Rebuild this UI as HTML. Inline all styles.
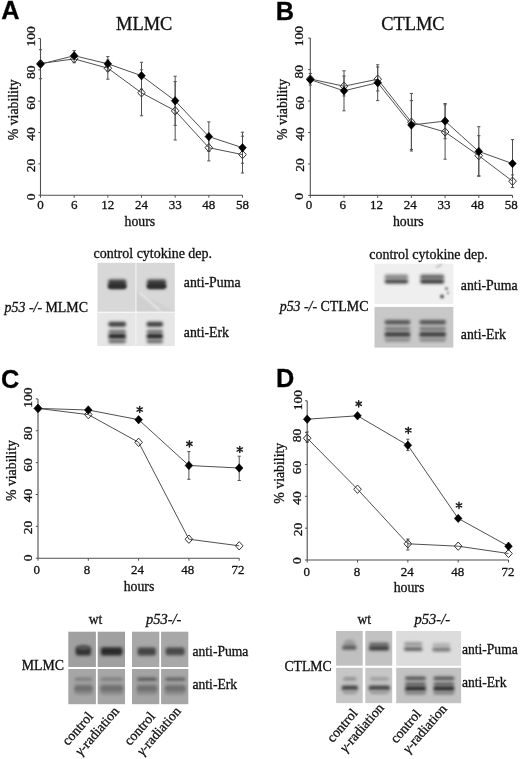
<!DOCTYPE html>
<html><head><meta charset="utf-8"><title>Figure</title>
<style>html,body{margin:0;padding:0;background:#fff;}svg{display:block;filter:grayscale(1) blur(0.3px);}text{stroke:#111;stroke-width:0.3px;}</style>
</head><body>
<svg width="520" height="759" viewBox="0 0 520 759">
<defs>
<filter id="b8" x="-50%" y="-100%" width="200%" height="300%"><feGaussianBlur stdDeviation="0.8"/></filter>
<filter id="b10" x="-50%" y="-100%" width="200%" height="300%"><feGaussianBlur stdDeviation="1.0"/></filter>
<filter id="b12" x="-50%" y="-100%" width="200%" height="300%"><feGaussianBlur stdDeviation="1.2"/></filter>
<filter id="b15" x="-50%" y="-100%" width="200%" height="300%"><feGaussianBlur stdDeviation="1.5"/></filter>
</defs>
<rect width="520" height="759" fill="#fff"/>
<rect x="97.5" y="262.8" width="77.3" height="49.2" fill="#d8d8d8"/>
<path d="M140,293 L174.8,311.5 L174.8,312 L136,312 L136,290 Z" fill="#d0d0d0" filter="url(#b15)"/>
<rect x="97.3" y="313.0" width="77.5" height="33.1" fill="#e6e6e6"/>
<rect x="135.3" y="262.8" width="1.2" height="84" fill="#f2f2f2"/>
<rect x="97.5" y="311.6" width="77.3" height="1.1" fill="#f4f4f4"/>
<rect x="108.2" y="279.4" width="18.0" height="9.4" rx="2" fill="#3c3c3c" opacity="1" filter="url(#b15)"/>
<rect x="108.2" y="284.4" width="18.0" height="4.0" rx="2" fill="#2e2e2e" opacity="1" filter="url(#b12)"/>
<rect x="147.0" y="279.4" width="19.0" height="9.4" rx="2" fill="#3c3c3c" opacity="1" filter="url(#b15)"/>
<rect x="147.0" y="284.4" width="19.0" height="4.0" rx="2" fill="#2e2e2e" opacity="1" filter="url(#b12)"/>
<rect x="108.4" y="321.8" width="17.6" height="5.0" rx="2" fill="#404040" opacity="1" filter="url(#b15)"/>
<rect x="108.4" y="329.8" width="17.6" height="3.4" rx="2" fill="#707070" opacity="1" filter="url(#b15)"/>
<rect x="108.4" y="333.4" width="17.6" height="5.6" rx="2" fill="#2c2c2c" opacity="1" filter="url(#b15)"/>
<rect x="108.4" y="339.6" width="17.6" height="3.6" rx="2" fill="#686868" opacity="1" filter="url(#b15)"/>
<rect x="146.6" y="321.8" width="16.4" height="5.0" rx="2" fill="#404040" opacity="1" filter="url(#b15)"/>
<rect x="146.6" y="329.8" width="16.4" height="3.4" rx="2" fill="#707070" opacity="1" filter="url(#b15)"/>
<rect x="146.6" y="333.4" width="16.4" height="5.6" rx="2" fill="#2c2c2c" opacity="1" filter="url(#b15)"/>
<rect x="146.6" y="339.6" width="16.4" height="3.6" rx="2" fill="#686868" opacity="1" filter="url(#b15)"/>
<path d="M139.5,292.5 L160,310.5" stroke="#f4f4f4" stroke-width="1.3" filter="url(#b8)"/>
<rect x="374.5" y="263.7" width="78.8" height="40.4" fill="#efefef"/>
<rect x="374.5" y="306.9" width="78.8" height="40.7" fill="#c8c8c8"/>
<rect x="384.6" y="274.6" width="23.6" height="4.6" rx="2" fill="#8c8c8c" opacity="1" filter="url(#b15)"/>
<rect x="384.6" y="279.4" width="23.6" height="4.0" rx="2" fill="#3e3e3e" opacity="1" filter="url(#b15)"/>
<rect x="420.2" y="274.6" width="24.0" height="4.6" rx="2" fill="#6a6a6a" opacity="1" filter="url(#b15)"/>
<rect x="420.2" y="279.4" width="24.0" height="4.0" rx="2" fill="#2e2e2e" opacity="1" filter="url(#b15)"/>
<rect x="384.6" y="320.0" width="25.8" height="4.6" rx="2" fill="#555555" opacity="1" filter="url(#b15)"/>
<rect x="384.6" y="326.8" width="25.8" height="4.0" rx="2" fill="#7a7a7a" opacity="1" filter="url(#b15)"/>
<rect x="384.6" y="331.8" width="25.8" height="5.4" rx="2" fill="#444444" opacity="1" filter="url(#b15)"/>
<rect x="384.6" y="337.8" width="25.8" height="4.0" rx="2" fill="#8c8c8c" opacity="1" filter="url(#b15)"/>
<rect x="419.4" y="320.0" width="26.6" height="4.6" rx="2" fill="#555555" opacity="1" filter="url(#b15)"/>
<rect x="419.4" y="326.8" width="26.6" height="4.0" rx="2" fill="#7a7a7a" opacity="1" filter="url(#b15)"/>
<rect x="419.4" y="331.8" width="26.6" height="5.4" rx="2" fill="#444444" opacity="1" filter="url(#b15)"/>
<rect x="419.4" y="337.8" width="26.6" height="4.0" rx="2" fill="#8c8c8c" opacity="1" filter="url(#b15)"/>
<circle cx="442" cy="296.5" r="2" fill="#555" filter="url(#b10)"/><circle cx="446.5" cy="288.5" r="1.6" fill="#777" filter="url(#b10)"/><circle cx="448" cy="293" r="1.2" fill="#888" filter="url(#b8)"/><path d="M436,267.5 L442,264.5" stroke="#999" stroke-width="1.2" filter="url(#b8)"/>
<rect x="68.3" y="631.7" width="27.6" height="35.3" fill="#a0a0a0"/>
<rect x="68.3" y="669.0" width="27.6" height="35.2" fill="#a6a6a6"/>
<rect x="97.7" y="631.7" width="27.3" height="35.3" fill="#a0a0a0"/>
<rect x="97.7" y="669.0" width="27.3" height="35.2" fill="#a6a6a6"/>
<rect x="132.0" y="631.7" width="27.3" height="35.3" fill="#a8a8a8"/>
<rect x="132.0" y="669.0" width="27.3" height="35.2" fill="#a4a4a4"/>
<rect x="161.1" y="631.7" width="27.2" height="35.3" fill="#a8a8a8"/>
<rect x="161.1" y="669.0" width="27.2" height="35.2" fill="#a6a6a6"/>
<rect x="75.6" y="646.8" width="15.4" height="8.6" rx="2" fill="#333333" opacity="1" filter="url(#b15)"/>
<ellipse cx="83.5" cy="647.5" rx="6" ry="2.6" fill="#555" filter="url(#b15)"/>
<rect x="100.8" y="647.2" width="21.6" height="8.4" rx="2" fill="#2a2a2a" opacity="1" filter="url(#b15)"/>
<rect x="137.6" y="647.4" width="18.2" height="8.0" rx="2" fill="#444444" opacity="1" filter="url(#b15)"/>
<rect x="165.6" y="647.6" width="19.0" height="7.6" rx="2" fill="#484848" opacity="1" filter="url(#b15)"/>
<rect x="74.5" y="677.6" width="18.0" height="3.4" rx="2" fill="#7e7e7e" opacity="1" filter="url(#b15)"/>
<rect x="74.5" y="684.0" width="18.0" height="10.6" rx="2" fill="#868686" opacity="1" filter="url(#b15)"/>
<rect x="74.5" y="686.4" width="18.0" height="4.0" rx="2" fill="#6c6c6c" opacity="1" filter="url(#b15)"/>
<rect x="100.5" y="677.6" width="22.5" height="3.4" rx="2" fill="#7e7e7e" opacity="1" filter="url(#b15)"/>
<rect x="100.5" y="684.0" width="22.5" height="10.6" rx="2" fill="#868686" opacity="1" filter="url(#b15)"/>
<rect x="100.5" y="686.4" width="22.5" height="4.0" rx="2" fill="#6c6c6c" opacity="1" filter="url(#b15)"/>
<rect x="137.0" y="677.6" width="20.0" height="3.4" rx="2" fill="#5a5a5a" opacity="1" filter="url(#b15)"/>
<rect x="137.0" y="684.0" width="20.0" height="10.6" rx="2" fill="#868686" opacity="1" filter="url(#b15)"/>
<rect x="137.0" y="686.4" width="20.0" height="4.0" rx="2" fill="#6c6c6c" opacity="1" filter="url(#b15)"/>
<rect x="165.0" y="677.6" width="20.5" height="3.4" rx="2" fill="#626262" opacity="1" filter="url(#b15)"/>
<rect x="165.0" y="684.0" width="20.5" height="10.6" rx="2" fill="#868686" opacity="1" filter="url(#b15)"/>
<rect x="165.0" y="686.4" width="20.5" height="4.0" rx="2" fill="#6c6c6c" opacity="1" filter="url(#b15)"/>
<rect x="336.1" y="631.0" width="26.6" height="34.7" fill="#c0c0c0"/>
<rect x="365.3" y="631.0" width="26.9" height="34.7" fill="#c2c2c2"/>
<rect x="396.2" y="631.0" width="64.9" height="34.8" fill="#dcdcdc"/>
<rect x="336.1" y="667.8" width="26.6" height="35.3" fill="#c6c6c6"/>
<rect x="365.3" y="667.8" width="26.9" height="35.3" fill="#c6c6c6"/>
<rect x="396.2" y="667.8" width="64.9" height="35.4" fill="#c2c2c2"/>
<ellipse cx="349.5" cy="643.5" rx="6" ry="4" fill="#9a9a9a" filter="url(#b15)"/>
<rect x="342.0" y="645.4" width="14.6" height="4.4" rx="2" fill="#5a5a5a" opacity="1" filter="url(#b15)"/>
<rect x="369.0" y="642.6" width="20.0" height="3.8" rx="2" fill="#6a6a6a" opacity="1" filter="url(#b15)"/>
<rect x="368.8" y="646.0" width="20.4" height="4.6" rx="2" fill="#3a3a3a" opacity="1" filter="url(#b15)"/>
<rect x="404.0" y="642.0" width="18.4" height="4.0" rx="2" fill="#9a9a9a" opacity="1" filter="url(#b15)"/>
<rect x="403.8" y="647.0" width="18.8" height="4.0" rx="2" fill="#666666" opacity="1" filter="url(#b15)"/>
<rect x="432.4" y="643.0" width="18.0" height="3.8" rx="2" fill="#b0b0b0" opacity="1" filter="url(#b15)"/>
<rect x="432.2" y="647.6" width="18.4" height="4.0" rx="2" fill="#777777" opacity="1" filter="url(#b15)"/>
<rect x="343.0" y="677.2" width="13.5" height="3.2" rx="2" fill="#8a8a8a" opacity="1" filter="url(#b15)"/>
<rect x="341.6" y="685.4" width="16.4" height="5.0" rx="2" fill="#444444" opacity="1" filter="url(#b15)"/>
<rect x="343.0" y="690.6" width="14.0" height="3.4" rx="2" fill="#9a9a9a" opacity="1" filter="url(#b15)"/>
<rect x="370.0" y="677.2" width="19.0" height="3.2" rx="2" fill="#9a9a9a" opacity="1" filter="url(#b15)"/>
<rect x="368.6" y="685.4" width="21.4" height="5.0" rx="2" fill="#444444" opacity="1" filter="url(#b15)"/>
<rect x="370.0" y="690.6" width="19.0" height="3.4" rx="2" fill="#9a9a9a" opacity="1" filter="url(#b15)"/>
<rect x="405.0" y="676.4" width="21.0" height="3.8" rx="2" fill="#555555" opacity="1" filter="url(#b15)"/>
<rect x="405.0" y="682.0" width="21.0" height="4.0" rx="2" fill="#6a6a6a" opacity="1" filter="url(#b15)"/>
<rect x="405.0" y="686.0" width="21.0" height="5.2" rx="2" fill="#333333" opacity="1" filter="url(#b15)"/>
<rect x="405.0" y="691.4" width="21.0" height="3.2" rx="2" fill="#7a7a7a" opacity="1" filter="url(#b15)"/>
<rect x="433.4" y="676.4" width="21.0" height="3.8" rx="2" fill="#555555" opacity="1" filter="url(#b15)"/>
<rect x="433.4" y="682.0" width="21.0" height="4.0" rx="2" fill="#6a6a6a" opacity="1" filter="url(#b15)"/>
<rect x="433.4" y="686.0" width="21.0" height="5.2" rx="2" fill="#333333" opacity="1" filter="url(#b15)"/>
<rect x="433.4" y="691.4" width="21.0" height="3.2" rx="2" fill="#7a7a7a" opacity="1" filter="url(#b15)"/>
<path d="M40.5,38.5V195.2H242.5" fill="none" stroke="#505050" stroke-width="1.1"/>
<path d="M38.3,38.50H40.5" stroke="#505050" stroke-width="1"/>
<text x="35.30" y="36.30" transform="rotate(-90 35.30 36.30)" text-anchor="middle" font-size="13.5" font-family='"Liberation Serif", serif' fill="#111">100</text>
<path d="M38.3,69.84H40.5" stroke="#505050" stroke-width="1"/>
<text x="35.30" y="72.30" transform="rotate(-90 35.30 72.30)" text-anchor="middle" font-size="13.5" font-family='"Liberation Serif", serif' fill="#111">80</text>
<path d="M38.3,101.18H40.5" stroke="#505050" stroke-width="1"/>
<text x="35.30" y="103.10" transform="rotate(-90 35.30 103.10)" text-anchor="middle" font-size="13.5" font-family='"Liberation Serif", serif' fill="#111">60</text>
<path d="M38.3,132.52H40.5" stroke="#505050" stroke-width="1"/>
<text x="35.30" y="133.90" transform="rotate(-90 35.30 133.90)" text-anchor="middle" font-size="13.5" font-family='"Liberation Serif", serif' fill="#111">40</text>
<path d="M38.3,163.86H40.5" stroke="#505050" stroke-width="1"/>
<text x="35.30" y="165.50" transform="rotate(-90 35.30 165.50)" text-anchor="middle" font-size="13.5" font-family='"Liberation Serif", serif' fill="#111">20</text>
<path d="M38.3,195.20H40.5" stroke="#505050" stroke-width="1"/>
<text x="35.30" y="196.90" transform="rotate(-90 35.30 196.90)" text-anchor="middle" font-size="13.5" font-family='"Liberation Serif", serif' fill="#111">0</text>
<path d="M40.50,195.2V197.7" stroke="#505050" stroke-width="1"/>
<text x="40.50" y="209.20" text-anchor="middle" font-size="13" font-family='"Liberation Serif", serif' fill="#111">0</text>
<path d="M74.17,195.2V197.7" stroke="#505050" stroke-width="1"/>
<text x="74.17" y="209.20" text-anchor="middle" font-size="13" font-family='"Liberation Serif", serif' fill="#111">6</text>
<path d="M107.83,195.2V197.7" stroke="#505050" stroke-width="1"/>
<text x="107.83" y="209.20" text-anchor="middle" font-size="13" font-family='"Liberation Serif", serif' fill="#111">12</text>
<path d="M141.50,195.2V197.7" stroke="#505050" stroke-width="1"/>
<text x="141.50" y="209.20" text-anchor="middle" font-size="13" font-family='"Liberation Serif", serif' fill="#111">24</text>
<path d="M175.17,195.2V197.7" stroke="#505050" stroke-width="1"/>
<text x="175.17" y="209.20" text-anchor="middle" font-size="13" font-family='"Liberation Serif", serif' fill="#111">33</text>
<path d="M208.83,195.2V197.7" stroke="#505050" stroke-width="1"/>
<text x="208.83" y="209.20" text-anchor="middle" font-size="13" font-family='"Liberation Serif", serif' fill="#111">48</text>
<path d="M242.50,195.2V197.7" stroke="#505050" stroke-width="1"/>
<text x="242.50" y="209.20" text-anchor="middle" font-size="13" font-family='"Liberation Serif", serif' fill="#111">58</text>
<path d="M40.50,49.70V78.70M38.90,49.70H42.10M38.90,78.70H42.10" stroke="#505050" stroke-width="1"/>
<path d="M74.17,50.60V62.70M72.57,50.60H75.77M72.57,62.70H75.77" stroke="#505050" stroke-width="1"/>
<path d="M107.83,56.60V71.00M106.23,56.60H109.43M106.23,71.00H109.43" stroke="#505050" stroke-width="1"/>
<path d="M141.50,62.30V89.10M139.90,62.30H143.10M139.90,89.10H143.10" stroke="#505050" stroke-width="1"/>
<path d="M175.17,76.20V125.40M173.57,76.20H176.77M173.57,125.40H176.77" stroke="#505050" stroke-width="1"/>
<path d="M208.83,121.90V151.30M207.23,121.90H210.43M207.23,151.30H210.43" stroke="#505050" stroke-width="1"/>
<path d="M242.50,132.20V163.20M240.90,132.20H244.10M240.90,163.20H244.10" stroke="#505050" stroke-width="1"/>
<path d="M107.83,60.00V79.20M106.23,60.00H109.43M106.23,79.20H109.43" stroke="#505050" stroke-width="1"/>
<path d="M141.50,69.80V115.80M139.90,69.80H143.10M139.90,115.80H143.10" stroke="#505050" stroke-width="1"/>
<path d="M175.17,81.60V140.00M173.57,81.60H176.77M173.57,140.00H176.77" stroke="#505050" stroke-width="1"/>
<path d="M208.83,134.50V160.90M207.23,134.50H210.43M207.23,160.90H210.43" stroke="#505050" stroke-width="1"/>
<path d="M242.50,136.20V173.00M240.90,136.20H244.10M240.90,173.00H244.10" stroke="#505050" stroke-width="1"/>
<path d="M40.50,63.50L74.17,58.90L107.83,68.20L141.50,92.80L175.17,110.80L208.83,147.70L242.50,154.60" fill="none" stroke="#505050" stroke-width="1.0"/>
<path d="M40.50,64.20L74.17,55.70L107.83,63.80L141.50,75.70L175.17,100.80L208.83,136.60L242.50,147.70" fill="none" stroke="#505050" stroke-width="1.0"/>
<path d="M40.50,59.30L44.30,63.50L40.50,67.70L36.70,63.50Z" fill="none" stroke="#333" stroke-width="1"/>
<path d="M74.17,54.70L77.97,58.90L74.17,63.10L70.37,58.90Z" fill="none" stroke="#333" stroke-width="1"/>
<path d="M107.83,64.00L111.63,68.20L107.83,72.40L104.03,68.20Z" fill="none" stroke="#333" stroke-width="1"/>
<path d="M141.50,88.60L145.30,92.80L141.50,97.00L137.70,92.80Z" fill="none" stroke="#333" stroke-width="1"/>
<path d="M175.17,106.60L178.97,110.80L175.17,115.00L171.37,110.80Z" fill="none" stroke="#333" stroke-width="1"/>
<path d="M208.83,143.50L212.63,147.70L208.83,151.90L205.03,147.70Z" fill="none" stroke="#333" stroke-width="1"/>
<path d="M242.50,150.40L246.30,154.60L242.50,158.80L238.70,154.60Z" fill="none" stroke="#333" stroke-width="1"/>
<path d="M40.50,60.00L44.30,64.20L40.50,68.40L36.70,64.20Z" fill="#000" stroke="#000" stroke-width="0.6"/>
<path d="M74.17,51.50L77.97,55.70L74.17,59.90L70.37,55.70Z" fill="#000" stroke="#000" stroke-width="0.6"/>
<path d="M107.83,59.60L111.63,63.80L107.83,68.00L104.03,63.80Z" fill="#000" stroke="#000" stroke-width="0.6"/>
<path d="M141.50,71.50L145.30,75.70L141.50,79.90L137.70,75.70Z" fill="#000" stroke="#000" stroke-width="0.6"/>
<path d="M175.17,96.60L178.97,100.80L175.17,105.00L171.37,100.80Z" fill="#000" stroke="#000" stroke-width="0.6"/>
<path d="M208.83,132.40L212.63,136.60L208.83,140.80L205.03,136.60Z" fill="#000" stroke="#000" stroke-width="0.6"/>
<path d="M242.50,143.50L246.30,147.70L242.50,151.90L238.70,147.70Z" fill="#000" stroke="#000" stroke-width="0.6"/>
<text x="17.80" y="109.80" transform="rotate(-90 17.80 109.80)" text-anchor="middle" font-size="13.8" font-family='"Liberation Serif", serif' fill="#111">% viability</text>
<text x="139.90" y="226.20" text-anchor="middle" font-size="13.8" font-family='"Liberation Serif", serif' fill="#111">hours</text>
<text x="144.20" y="29.50" text-anchor="middle" font-size="18.4" font-family='"Liberation Serif", serif' fill="#111">MLMC</text>
<text x="1.20" y="19.20" font-size="25.3" font-weight="bold" font-family='"Liberation Sans", sans-serif' fill="#000">A</text>
<path d="M310.3,38.1V195.4H512.5" fill="none" stroke="#505050" stroke-width="1.1"/>
<path d="M308.1,38.10H310.3" stroke="#505050" stroke-width="1"/>
<text x="303.50" y="36.10" transform="rotate(-90 303.50 36.10)" text-anchor="middle" font-size="13.5" font-family='"Liberation Serif", serif' fill="#111">100</text>
<path d="M308.1,69.56H310.3" stroke="#505050" stroke-width="1"/>
<text x="303.50" y="71.80" transform="rotate(-90 303.50 71.80)" text-anchor="middle" font-size="13.5" font-family='"Liberation Serif", serif' fill="#111">80</text>
<path d="M308.1,101.02H310.3" stroke="#505050" stroke-width="1"/>
<text x="303.50" y="103.00" transform="rotate(-90 303.50 103.00)" text-anchor="middle" font-size="13.5" font-family='"Liberation Serif", serif' fill="#111">60</text>
<path d="M308.1,132.48H310.3" stroke="#505050" stroke-width="1"/>
<text x="303.50" y="134.00" transform="rotate(-90 303.50 134.00)" text-anchor="middle" font-size="13.5" font-family='"Liberation Serif", serif' fill="#111">40</text>
<path d="M308.1,163.94H310.3" stroke="#505050" stroke-width="1"/>
<text x="303.50" y="165.00" transform="rotate(-90 303.50 165.00)" text-anchor="middle" font-size="13.5" font-family='"Liberation Serif", serif' fill="#111">20</text>
<path d="M308.1,195.40H310.3" stroke="#505050" stroke-width="1"/>
<text x="303.50" y="196.30" transform="rotate(-90 303.50 196.30)" text-anchor="middle" font-size="13.5" font-family='"Liberation Serif", serif' fill="#111">0</text>
<path d="M310.30,195.4V197.9" stroke="#505050" stroke-width="1"/>
<text x="309.10" y="209.40" text-anchor="middle" font-size="13" font-family='"Liberation Serif", serif' fill="#111">0</text>
<path d="M344.00,195.4V197.9" stroke="#505050" stroke-width="1"/>
<text x="342.80" y="209.40" text-anchor="middle" font-size="13" font-family='"Liberation Serif", serif' fill="#111">6</text>
<path d="M377.70,195.4V197.9" stroke="#505050" stroke-width="1"/>
<text x="376.50" y="209.40" text-anchor="middle" font-size="13" font-family='"Liberation Serif", serif' fill="#111">12</text>
<path d="M411.40,195.4V197.9" stroke="#505050" stroke-width="1"/>
<text x="410.20" y="209.40" text-anchor="middle" font-size="13" font-family='"Liberation Serif", serif' fill="#111">24</text>
<path d="M445.10,195.4V197.9" stroke="#505050" stroke-width="1"/>
<text x="443.90" y="209.40" text-anchor="middle" font-size="13" font-family='"Liberation Serif", serif' fill="#111">33</text>
<path d="M478.80,195.4V197.9" stroke="#505050" stroke-width="1"/>
<text x="477.60" y="209.40" text-anchor="middle" font-size="13" font-family='"Liberation Serif", serif' fill="#111">48</text>
<path d="M512.50,195.4V197.9" stroke="#505050" stroke-width="1"/>
<text x="511.30" y="209.40" text-anchor="middle" font-size="13" font-family='"Liberation Serif", serif' fill="#111">58</text>
<path d="M310.30,73.50V85.00M308.70,73.50H311.90M308.70,85.00H311.90" stroke="#505050" stroke-width="1"/>
<path d="M344.00,70.80V110.80M342.40,70.80H345.60M342.40,110.80H345.60" stroke="#505050" stroke-width="1"/>
<path d="M377.70,64.80V100.60M376.10,64.80H379.30M376.10,100.60H379.30" stroke="#505050" stroke-width="1"/>
<path d="M411.40,100.60V149.40M409.80,100.60H413.00M409.80,149.40H413.00" stroke="#505050" stroke-width="1"/>
<path d="M445.10,103.50V138.70M443.50,103.50H446.70M443.50,138.70H446.70" stroke="#505050" stroke-width="1"/>
<path d="M478.80,126.70V176.30M477.20,126.70H480.40M477.20,176.30H480.40" stroke="#505050" stroke-width="1"/>
<path d="M512.50,139.60V187.60M510.90,139.60H514.10M510.90,187.60H514.10" stroke="#505050" stroke-width="1"/>
<path d="M344.00,76.00V96.00M342.40,76.00H345.60M342.40,96.00H345.60" stroke="#505050" stroke-width="1"/>
<path d="M377.70,67.00V91.00M376.10,67.00H379.30M376.10,91.00H379.30" stroke="#505050" stroke-width="1"/>
<path d="M411.40,93.40V151.00M409.80,93.40H413.00M409.80,151.00H413.00" stroke="#505050" stroke-width="1"/>
<path d="M445.10,104.80V159.20M443.50,104.80H446.70M443.50,159.20H446.70" stroke="#505050" stroke-width="1"/>
<path d="M478.80,135.70V175.70M477.20,135.70H480.40M477.20,175.70H480.40" stroke="#505050" stroke-width="1"/>
<path d="M512.50,174.90V187.50M510.90,174.90H514.10M510.90,187.50H514.10" stroke="#505050" stroke-width="1"/>
<path d="M310.30,79.00L344.00,86.20L377.70,79.20L411.40,122.20L445.10,132.00L478.80,155.70L512.50,181.20" fill="none" stroke="#505050" stroke-width="1.0"/>
<path d="M310.30,79.70L344.00,90.80L377.70,82.70L411.40,125.00L445.10,121.10L478.80,151.50L512.50,163.60" fill="none" stroke="#505050" stroke-width="1.0"/>
<path d="M310.30,74.80L314.10,79.00L310.30,83.20L306.50,79.00Z" fill="none" stroke="#333" stroke-width="1"/>
<path d="M344.00,82.00L347.80,86.20L344.00,90.40L340.20,86.20Z" fill="none" stroke="#333" stroke-width="1"/>
<path d="M377.70,75.00L381.50,79.20L377.70,83.40L373.90,79.20Z" fill="none" stroke="#333" stroke-width="1"/>
<path d="M411.40,118.00L415.20,122.20L411.40,126.40L407.60,122.20Z" fill="none" stroke="#333" stroke-width="1"/>
<path d="M445.10,127.80L448.90,132.00L445.10,136.20L441.30,132.00Z" fill="none" stroke="#333" stroke-width="1"/>
<path d="M478.80,151.50L482.60,155.70L478.80,159.90L475.00,155.70Z" fill="none" stroke="#333" stroke-width="1"/>
<path d="M512.50,177.00L516.30,181.20L512.50,185.40L508.70,181.20Z" fill="none" stroke="#333" stroke-width="1"/>
<path d="M310.30,75.50L314.10,79.70L310.30,83.90L306.50,79.70Z" fill="#000" stroke="#000" stroke-width="0.6"/>
<path d="M344.00,86.60L347.80,90.80L344.00,95.00L340.20,90.80Z" fill="#000" stroke="#000" stroke-width="0.6"/>
<path d="M377.70,78.50L381.50,82.70L377.70,86.90L373.90,82.70Z" fill="#000" stroke="#000" stroke-width="0.6"/>
<path d="M411.40,120.80L415.20,125.00L411.40,129.20L407.60,125.00Z" fill="#000" stroke="#000" stroke-width="0.6"/>
<path d="M445.10,116.90L448.90,121.10L445.10,125.30L441.30,121.10Z" fill="#000" stroke="#000" stroke-width="0.6"/>
<path d="M478.80,147.30L482.60,151.50L478.80,155.70L475.00,151.50Z" fill="#000" stroke="#000" stroke-width="0.6"/>
<path d="M512.50,159.40L516.30,163.60L512.50,167.80L508.70,163.60Z" fill="#000" stroke="#000" stroke-width="0.6"/>
<text x="286.90" y="109.40" transform="rotate(-90 286.90 109.40)" text-anchor="middle" font-size="13.8" font-family='"Liberation Serif", serif' fill="#111">% viability</text>
<text x="408.30" y="225.80" text-anchor="middle" font-size="13.8" font-family='"Liberation Serif", serif' fill="#111">hours</text>
<text x="412.90" y="29.50" text-anchor="middle" font-size="18.4" font-family='"Liberation Serif", serif' fill="#111">CTLMC</text>
<text x="275.80" y="19.80" font-size="25.3" font-weight="bold" font-family='"Liberation Sans", sans-serif' fill="#000">B</text>
<path d="M38.0,398.9V558.2H239.2" fill="none" stroke="#505050" stroke-width="1.1"/>
<path d="M35.8,398.90H38.0" stroke="#505050" stroke-width="1"/>
<text x="32.40" y="397.50" transform="rotate(-90 32.40 397.50)" text-anchor="middle" font-size="13.5" font-family='"Liberation Serif", serif' fill="#111">100</text>
<path d="M35.8,430.76H38.0" stroke="#505050" stroke-width="1"/>
<text x="32.40" y="433.20" transform="rotate(-90 32.40 433.20)" text-anchor="middle" font-size="13.5" font-family='"Liberation Serif", serif' fill="#111">80</text>
<path d="M35.8,462.62H38.0" stroke="#505050" stroke-width="1"/>
<text x="32.40" y="465.00" transform="rotate(-90 32.40 465.00)" text-anchor="middle" font-size="13.5" font-family='"Liberation Serif", serif' fill="#111">60</text>
<path d="M35.8,494.48H38.0" stroke="#505050" stroke-width="1"/>
<text x="32.40" y="495.60" transform="rotate(-90 32.40 495.60)" text-anchor="middle" font-size="13.5" font-family='"Liberation Serif", serif' fill="#111">40</text>
<path d="M35.8,526.34H38.0" stroke="#505050" stroke-width="1"/>
<text x="32.40" y="527.50" transform="rotate(-90 32.40 527.50)" text-anchor="middle" font-size="13.5" font-family='"Liberation Serif", serif' fill="#111">20</text>
<path d="M35.8,558.20H38.0" stroke="#505050" stroke-width="1"/>
<text x="32.40" y="557.80" transform="rotate(-90 32.40 557.80)" text-anchor="middle" font-size="13.5" font-family='"Liberation Serif", serif' fill="#111">0</text>
<path d="M38.00,558.2V560.7" stroke="#505050" stroke-width="1"/>
<text x="36.80" y="574.00" text-anchor="middle" font-size="13" font-family='"Liberation Serif", serif' fill="#111">0</text>
<path d="M88.30,558.2V560.7" stroke="#505050" stroke-width="1"/>
<text x="87.10" y="574.00" text-anchor="middle" font-size="13" font-family='"Liberation Serif", serif' fill="#111">8</text>
<path d="M138.60,558.2V560.7" stroke="#505050" stroke-width="1"/>
<text x="137.40" y="574.00" text-anchor="middle" font-size="13" font-family='"Liberation Serif", serif' fill="#111">24</text>
<path d="M188.90,558.2V560.7" stroke="#505050" stroke-width="1"/>
<text x="187.70" y="574.00" text-anchor="middle" font-size="13" font-family='"Liberation Serif", serif' fill="#111">48</text>
<path d="M239.20,558.2V560.7" stroke="#505050" stroke-width="1"/>
<text x="238.00" y="574.00" text-anchor="middle" font-size="13" font-family='"Liberation Serif", serif' fill="#111">72</text>
<path d="M188.90,451.60V479.30M187.30,451.60H190.50M187.30,479.30H190.50" stroke="#505050" stroke-width="1"/>
<path d="M239.20,456.20V480.50M237.60,456.20H240.80M237.60,480.50H240.80" stroke="#505050" stroke-width="1"/>
<path d="M38.00,408.40L88.30,414.60L138.60,442.30L188.90,539.20L239.20,545.80" fill="none" stroke="#505050" stroke-width="1.0"/>
<path d="M38.00,408.40L88.30,410.00L138.60,419.70L188.90,465.50L239.20,468.00" fill="none" stroke="#505050" stroke-width="1.0"/>
<path d="M38.00,404.20L41.80,408.40L38.00,412.60L34.20,408.40Z" fill="none" stroke="#333" stroke-width="1"/>
<path d="M88.30,410.40L92.10,414.60L88.30,418.80L84.50,414.60Z" fill="none" stroke="#333" stroke-width="1"/>
<path d="M138.60,438.10L142.40,442.30L138.60,446.50L134.80,442.30Z" fill="none" stroke="#333" stroke-width="1"/>
<path d="M188.90,535.00L192.70,539.20L188.90,543.40L185.10,539.20Z" fill="none" stroke="#333" stroke-width="1"/>
<path d="M239.20,541.60L243.00,545.80L239.20,550.00L235.40,545.80Z" fill="none" stroke="#333" stroke-width="1"/>
<path d="M38.00,404.20L41.80,408.40L38.00,412.60L34.20,408.40Z" fill="#000" stroke="#000" stroke-width="0.6"/>
<path d="M88.30,405.80L92.10,410.00L88.30,414.20L84.50,410.00Z" fill="#000" stroke="#000" stroke-width="0.6"/>
<path d="M138.60,415.50L142.40,419.70L138.60,423.90L134.80,419.70Z" fill="#000" stroke="#000" stroke-width="0.6"/>
<path d="M188.90,461.30L192.70,465.50L188.90,469.70L185.10,465.50Z" fill="#000" stroke="#000" stroke-width="0.6"/>
<path d="M239.20,463.80L243.00,468.00L239.20,472.20L235.40,468.00Z" fill="#000" stroke="#000" stroke-width="0.6"/>
<path d="M139.70,406.40V412.60M137.02,407.95L142.38,411.05M137.02,411.05L142.38,407.95" stroke="#222" stroke-width="1.5" stroke-linecap="round"/>
<path d="M189.40,440.70V446.90M186.72,442.25L192.08,445.35M186.72,445.35L192.08,442.25" stroke="#222" stroke-width="1.5" stroke-linecap="round"/>
<path d="M239.80,446.40V452.60M237.12,447.95L242.48,451.05M237.12,451.05L242.48,447.95" stroke="#222" stroke-width="1.5" stroke-linecap="round"/>
<text x="16.30" y="470.60" transform="rotate(-90 16.30 470.60)" text-anchor="middle" font-size="13.8" font-family='"Liberation Serif", serif' fill="#111">% viability</text>
<text x="139.00" y="590.80" text-anchor="middle" font-size="13.8" font-family='"Liberation Serif", serif' fill="#111">hours</text>
<text x="1.00" y="387.50" font-size="25.3" font-weight="bold" font-family='"Liberation Sans", sans-serif' fill="#000">C</text>
<path d="M307.2,400.8V560.0H508.5" fill="none" stroke="#505050" stroke-width="1.1"/>
<path d="M305.0,400.80H307.2" stroke="#505050" stroke-width="1"/>
<text x="301.50" y="400.00" transform="rotate(-90 301.50 400.00)" text-anchor="middle" font-size="13.5" font-family='"Liberation Serif", serif' fill="#111">100</text>
<path d="M305.0,432.64H307.2" stroke="#505050" stroke-width="1"/>
<text x="301.50" y="435.40" transform="rotate(-90 301.50 435.40)" text-anchor="middle" font-size="13.5" font-family='"Liberation Serif", serif' fill="#111">80</text>
<path d="M305.0,464.48H307.2" stroke="#505050" stroke-width="1"/>
<text x="301.50" y="467.40" transform="rotate(-90 301.50 467.40)" text-anchor="middle" font-size="13.5" font-family='"Liberation Serif", serif' fill="#111">60</text>
<path d="M305.0,496.32H307.2" stroke="#505050" stroke-width="1"/>
<text x="301.50" y="498.10" transform="rotate(-90 301.50 498.10)" text-anchor="middle" font-size="13.5" font-family='"Liberation Serif", serif' fill="#111">40</text>
<path d="M305.0,528.16H307.2" stroke="#505050" stroke-width="1"/>
<text x="301.50" y="529.50" transform="rotate(-90 301.50 529.50)" text-anchor="middle" font-size="13.5" font-family='"Liberation Serif", serif' fill="#111">20</text>
<path d="M305.0,560.00H307.2" stroke="#505050" stroke-width="1"/>
<text x="301.50" y="560.70" transform="rotate(-90 301.50 560.70)" text-anchor="middle" font-size="13.5" font-family='"Liberation Serif", serif' fill="#111">0</text>
<path d="M307.20,560.0V562.5" stroke="#505050" stroke-width="1"/>
<text x="306.70" y="575.60" text-anchor="middle" font-size="13" font-family='"Liberation Serif", serif' fill="#111">0</text>
<path d="M357.52,560.0V562.5" stroke="#505050" stroke-width="1"/>
<text x="357.02" y="575.60" text-anchor="middle" font-size="13" font-family='"Liberation Serif", serif' fill="#111">8</text>
<path d="M407.85,560.0V562.5" stroke="#505050" stroke-width="1"/>
<text x="407.35" y="575.60" text-anchor="middle" font-size="13" font-family='"Liberation Serif", serif' fill="#111">24</text>
<path d="M458.18,560.0V562.5" stroke="#505050" stroke-width="1"/>
<text x="457.68" y="575.60" text-anchor="middle" font-size="13" font-family='"Liberation Serif", serif' fill="#111">48</text>
<path d="M508.50,560.0V562.5" stroke="#505050" stroke-width="1"/>
<text x="508.00" y="575.60" text-anchor="middle" font-size="13" font-family='"Liberation Serif", serif' fill="#111">72</text>
<path d="M407.85,439.20V450.60M406.25,439.20H409.45M406.25,450.60H409.45" stroke="#505050" stroke-width="1"/>
<path d="M307.20,432.00V442.30M305.60,432.00H308.80M305.60,442.30H308.80" stroke="#505050" stroke-width="1"/>
<path d="M407.85,539.00V550.00M406.25,539.00H409.45M406.25,550.00H409.45" stroke="#505050" stroke-width="1"/>
<path d="M307.20,438.20L357.52,489.20L407.85,543.80L458.18,546.20L508.50,553.50" fill="none" stroke="#505050" stroke-width="1.0"/>
<path d="M307.20,419.20L357.52,415.80L407.85,445.30L458.18,518.40L508.50,546.20" fill="none" stroke="#505050" stroke-width="1.0"/>
<path d="M307.20,434.00L311.00,438.20L307.20,442.40L303.40,438.20Z" fill="none" stroke="#333" stroke-width="1"/>
<path d="M357.52,485.00L361.32,489.20L357.52,493.40L353.72,489.20Z" fill="none" stroke="#333" stroke-width="1"/>
<path d="M407.85,539.60L411.65,543.80L407.85,548.00L404.05,543.80Z" fill="none" stroke="#333" stroke-width="1"/>
<path d="M458.18,542.00L461.98,546.20L458.18,550.40L454.38,546.20Z" fill="none" stroke="#333" stroke-width="1"/>
<path d="M508.50,549.30L512.30,553.50L508.50,557.70L504.70,553.50Z" fill="none" stroke="#333" stroke-width="1"/>
<path d="M307.20,415.00L311.00,419.20L307.20,423.40L303.40,419.20Z" fill="#000" stroke="#000" stroke-width="0.6"/>
<path d="M357.52,411.60L361.32,415.80L357.52,420.00L353.72,415.80Z" fill="#000" stroke="#000" stroke-width="0.6"/>
<path d="M407.85,441.10L411.65,445.30L407.85,449.50L404.05,445.30Z" fill="#000" stroke="#000" stroke-width="0.6"/>
<path d="M458.18,514.20L461.98,518.40L458.18,522.60L454.38,518.40Z" fill="#000" stroke="#000" stroke-width="0.6"/>
<path d="M508.50,542.00L512.30,546.20L508.50,550.40L504.70,546.20Z" fill="#000" stroke="#000" stroke-width="0.6"/>
<path d="M358.70,400.70V406.90M356.02,402.25L361.38,405.35M356.02,405.35L361.38,402.25" stroke="#222" stroke-width="1.5" stroke-linecap="round"/>
<path d="M408.30,427.20V433.40M405.62,428.75L410.98,431.85M405.62,431.85L410.98,428.75" stroke="#222" stroke-width="1.5" stroke-linecap="round"/>
<path d="M459.00,502.30V508.50M456.32,503.85L461.68,506.95M456.32,506.95L461.68,503.85" stroke="#222" stroke-width="1.5" stroke-linecap="round"/>
<text x="284.40" y="473.20" transform="rotate(-90 284.40 473.20)" text-anchor="middle" font-size="13.8" font-family='"Liberation Serif", serif' fill="#111">% viability</text>
<text x="409.00" y="592.30" text-anchor="middle" font-size="13.8" font-family='"Liberation Serif", serif' fill="#111">hours</text>
<text x="276.00" y="387.30" font-size="25.3" font-weight="bold" font-family='"Liberation Sans", sans-serif' fill="#000">D</text>
<text x="93.5" y="257.9" font-size="14" text-anchor="start" font-family='"Liberation Serif", serif' fill="#111">control cytokine dep.</text>
<text x="183.8" y="287.2" font-size="13.8" text-anchor="start" font-family='"Liberation Serif", serif' fill="#111">anti-Puma</text>
<text x="183.8" y="337.4" font-size="13.8" text-anchor="start" font-family='"Liberation Serif", serif' fill="#111">anti-Erk</text>
<text x="4.6" y="311.6" font-size="13.9" font-family='"Liberation Serif", serif' fill="#111"><tspan font-style="italic">p53 -/-</tspan> MLMC</text>
<text x="369.2" y="258.6" font-size="14" text-anchor="start" font-family='"Liberation Serif", serif' fill="#111">control cytokine dep.</text>
<text x="460.8" y="289.9" font-size="13.8" text-anchor="start" font-family='"Liberation Serif", serif' fill="#111">anti-Puma</text>
<text x="460.8" y="339.3" font-size="13.8" text-anchor="start" font-family='"Liberation Serif", serif' fill="#111">anti-Erk</text>
<text x="279.7" y="311.2" font-size="13.9" font-family='"Liberation Serif", serif' fill="#111"><tspan font-style="italic">p53 -/-</tspan> CTLMC</text>
<text x="95.6" y="623.5" font-size="13.6" text-anchor="middle" font-family='"Liberation Serif", serif' fill="#111">wt</text>
<text x="163.7" y="623.5" font-size="14.5" text-anchor="middle" font-family='"Liberation Serif", serif' fill="#111" font-style="italic">p53-/-</text>
<text x="192.5" y="655.9" font-size="13.6" text-anchor="start" font-family='"Liberation Serif", serif' fill="#111">anti-Puma</text>
<text x="192.5" y="689.1" font-size="13.6" text-anchor="start" font-family='"Liberation Serif", serif' fill="#111">anti-Erk</text>
<text x="64.0" y="670.1" font-size="13.8" text-anchor="end" font-family='"Liberation Serif", serif' fill="#111">MLMC</text>
<text x="364.3" y="623.5" font-size="13.6" text-anchor="middle" font-family='"Liberation Serif", serif' fill="#111">wt</text>
<text x="432.3" y="623.5" font-size="14.5" text-anchor="middle" font-family='"Liberation Serif", serif' fill="#111" font-style="italic">p53-/-</text>
<text x="461.9" y="653.8" font-size="13.6" text-anchor="start" font-family='"Liberation Serif", serif' fill="#111">anti-Puma</text>
<text x="461.9" y="686.5" font-size="13.6" text-anchor="start" font-family='"Liberation Serif", serif' fill="#111">anti-Erk</text>
<text x="331.6" y="671.0" font-size="13.7" text-anchor="end" font-family='"Liberation Serif", serif' fill="#111">CTLMC</text>
<text x="93.75" y="716.85" transform="rotate(-49 93.75 716.85)" font-size="13.8" text-anchor="end" font-family='"Liberation Serif", serif' fill="#111">control</text>
<text x="119.85" y="711.65" transform="rotate(-49 119.85 711.65)" font-size="13.8" text-anchor="end" font-family='"Liberation Serif", serif' fill="#111"><tspan font-style="italic">γ</tspan>-radiation</text>
<text x="155.75" y="716.8" transform="rotate(-49 155.75 716.8)" font-size="13.8" text-anchor="end" font-family='"Liberation Serif", serif' fill="#111">control</text>
<text x="181.5" y="711.65" transform="rotate(-49 181.5 711.65)" font-size="13.8" text-anchor="end" font-family='"Liberation Serif", serif' fill="#111"><tspan font-style="italic">γ</tspan>-radiation</text>
<text x="358.4" y="713.7" transform="rotate(-49 358.4 713.7)" font-size="13.8" text-anchor="end" font-family='"Liberation Serif", serif' fill="#111">control</text>
<text x="384.45" y="708.3" transform="rotate(-49 384.45 708.3)" font-size="13.8" text-anchor="end" font-family='"Liberation Serif", serif' fill="#111"><tspan font-style="italic">γ</tspan>-radiation</text>
<text x="421.85" y="714.5" transform="rotate(-49 421.85 714.5)" font-size="13.8" text-anchor="end" font-family='"Liberation Serif", serif' fill="#111">control</text>
<text x="447.5" y="709.3" transform="rotate(-49 447.5 709.3)" font-size="13.8" text-anchor="end" font-family='"Liberation Serif", serif' fill="#111"><tspan font-style="italic">γ</tspan>-radiation</text>
</svg>
</body></html>
